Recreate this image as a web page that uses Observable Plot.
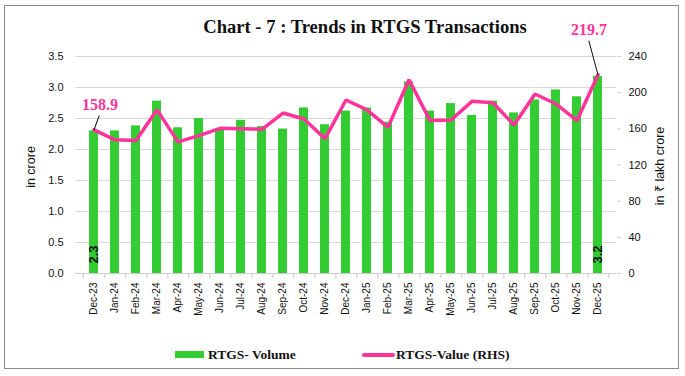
<!DOCTYPE html>
<html><head><meta charset="utf-8">
<script src="https://cdn.jsdelivr.net/npm/d3@7"></script>
<script src="https://cdn.jsdelivr.net/npm/@observablehq/plot@0.6"></script>
<style>
body{margin:0;background:#fff;}
#wrap{position:relative;width:685px;height:376px;overflow:hidden;background:#fff;}
#frame{position:absolute;left:4px;top:5px;width:675px;height:364px;border:1.5px solid #8c8c8c;box-sizing:border-box;}
#title{position:absolute;left:0;width:685px;top:16px;text-align:center;padding-left:45px;box-sizing:border-box;font:bold 18.6px "Liberation Serif","DejaVu Serif",serif;color:#111;}
.leg{position:absolute;top:347px;font:bold 13.5px "Liberation Serif","DejaVu Serif",serif;color:#111;}
.ylab{position:absolute;font:12.5px "Liberation Sans",sans-serif;color:#111;transform:translate(-50%,-50%) rotate(-90deg);white-space:nowrap;}
#plot{position:absolute;left:0;top:0;}
</style></head>
<body><div id="wrap"><div id="plot"></div><div id="frame"></div>
<div id="title">Chart - 7 : Trends in RTGS Transactions</div>
<div class="ylab" style="left:31px;top:167px;">in crore</div>
<div class="ylab" style="left:659px;top:166px;">in ₹ lakh crore</div>
<div class="leg" style="left:175px;"><span style="display:inline-block;width:29px;height:7px;background:#33cc33;vertical-align:middle;margin-right:4px;position:relative;top:-1px;"></span>RTGS- Volume</div>
<div class="leg" style="left:362px;"><span style="display:inline-block;width:33px;height:4px;border-radius:2px;background:#ff3399;vertical-align:middle;margin-right:1px;position:relative;top:-1px;"></span>RTGS-Value (RHS)</div>
</div>
<script>
const months = ["Dec-23","Jan-24","Feb-24","Mar-24","Apr-24","May-24","Jun-24","Jul-24","Aug-24","Sep-24","Oct-24","Nov-24","Dec-24","Jan-25","Feb-25","Mar-25","Apr-25","May-25","Jun-25","Jul-25","Aug-25","Sep-25","Oct-25","Nov-25","Dec-25"];
const volume = [2.30,2.30,2.38,2.78,2.35,2.50,2.33,2.47,2.37,2.33,2.67,2.40,2.62,2.67,2.44,3.09,2.62,2.74,2.55,2.78,2.59,2.80,2.96,2.85,3.18];
const value = [158.9,147.8,147.0,181.0,145.6,152.5,160.6,160.2,159.5,177.5,170.9,149.2,191.9,180.9,161.7,214.3,169.1,169.8,190.4,188.9,164.3,198.5,187.5,169.1,219.7];
const leftTicks = [0,0.5,1,1.5,2,2.5,3,3.5];
const rightTicks = [0,40,80,120,160,200,240];

const Y1MAX = 3.5, Y2MAX = 240;
const toY1 = v => v * Y1MAX / Y2MAX;
const rows = months.map((m,i) => ({month:m, vol:volume[i], val:value[i], valY:toY1(value[i])}));
const first = rows[0], last = rows[rows.length-1];
const step = (685-75-69)/months.length;

const noLine = {draw(ctx, l){ ctx.moveTo(0,0); ctx.lineTo(0,-l); }};

const chart = Plot.plot({
  width: 685, height: 376,
  marginTop: 56, marginBottom: 103, marginLeft: 75, marginRight: 69,
  style: {fontFamily: '"Liberation Sans", sans-serif', fontSize: "11px", color: "#111", background: "transparent"},
  x: {domain: months, paddingInner: 0.55, paddingOuter: 0.275, label: null},
  y: {domain: [0, Y1MAX], label: null},
  marks: [
    Plot.gridY(leftTicks, {stroke: "#d9d9d9", strokeOpacity: 1}),
    Plot.axisY(leftTicks, {anchor: "left", tickSize: 0, tickPadding: 12, tickFormat: d3.format(".1f"), label: null, fontSize: 11}),
    Plot.axisY(rightTicks, {anchor: "right", y: toY1, tickSize: 4, stroke: "#d0d0d0", tickPadding: 8, tickFormat: d => d, label: null, fontSize: 11}),
    Plot.barY(rows, {x: "month", y: "vol", fill: "#33cc33"}),
    Plot.ruleY([0], {stroke: "#d0d0d0"}),
    Plot.ruleX(months, {x: d => d, y1: 0, y2: -0.085, dx: step/2, stroke: "#c8c8c8"}),
    Plot.ruleX([months[0]], {x: d => d, y1: 0, y2: -0.085, dx: -step/2, stroke: "#c8c8c8"}),
    Plot.axisX({tickSize: 0, tickPadding: 9, tickRotate: -90, label: null, fontSize: 10}),
    Plot.line(rows, {x: "month", y: "valY", stroke: "#ff3399", strokeWidth: 3.5, strokeLinejoin: "miter"}),
    Plot.vector([first], {x: "month", y: "valY", length: 15, rotate: 20, anchor: "start", shape: noLine, stroke: "#111", strokeWidth: 1}),
    Plot.vector([last], {x: "month", y: "valY", length: 35, rotate: -15, anchor: "start", shape: noLine, stroke: "#111", strokeWidth: 1}),
    Plot.text([first], {x: "month", y: "valY", text: d => d.val.toFixed(1), dx: 6, dy: -25, fill: "#ff3399", fontWeight: "bold", fontSize: 16, fontFamily: '"Liberation Serif", serif'}),
    Plot.text([last], {x: "month", y: "valY", text: d => d.val.toFixed(1), dx: -9, dy: -45, fill: "#ff3399", fontWeight: "bold", fontSize: 16, fontFamily: '"Liberation Serif", serif'}),
    Plot.text([first, last], {x: "month", y: 0, text: d => d.vol.toFixed(1), rotate: -90, dy: -19, fill: "#111", fontWeight: "bold", fontSize: 13})
  ]
});
document.getElementById("plot").appendChild(chart);
</script>
</body></html>
